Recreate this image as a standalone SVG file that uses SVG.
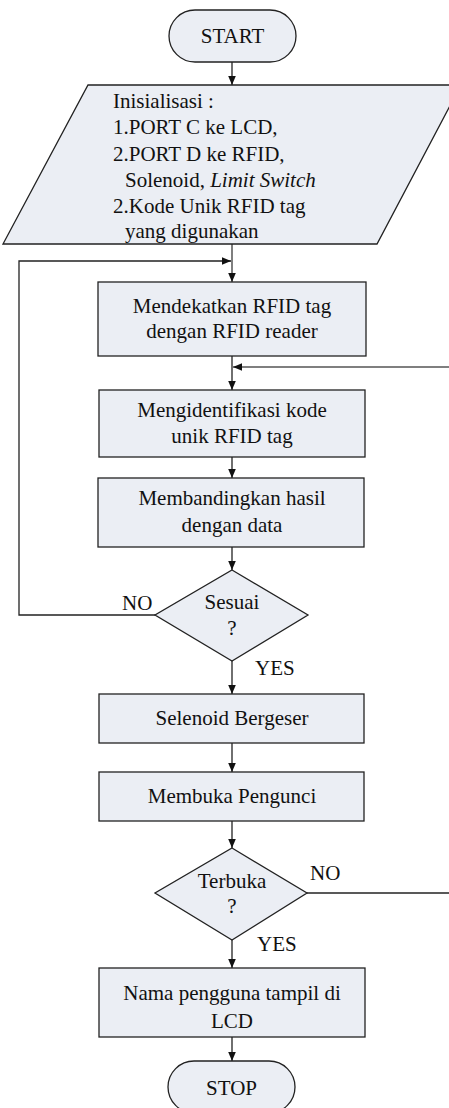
<svg xmlns="http://www.w3.org/2000/svg" width="449" height="1108" viewBox="0 0 449 1108">
<defs>
<style>
.sh{fill:#ebeef4;stroke:#222;stroke-width:1.3}
.t{font-family:"Liberation Serif","Times New Roman",serif;font-size:21px;fill:#111}
.c{text-anchor:middle}
.ln{fill:none;stroke:#222;stroke-width:1.3}
.lg{fill:none;stroke:#555;stroke-width:1.5}
</style>
<marker id="ah" markerWidth="10" markerHeight="10" refX="9" refY="5" orient="auto" markerUnits="userSpaceOnUse">
<path d="M0,1.2 L9,5 L0,8.8 Z" fill="#111"/>
</marker>
</defs>
<rect width="449" height="1108" fill="#fff"/>
<g id="connectors">
<line class="ln" x1="232" y1="62" x2="232" y2="85" marker-end="url(#ah)"/>
<line class="lg" x1="232" y1="244" x2="232" y2="282" marker-end="url(#ah)"/>
<polyline class="ln" points="155,615 19,615 19,261 231,261" marker-end="url(#ah)"/>
<line class="ln" x1="232" y1="356" x2="232" y2="390" marker-end="url(#ah)"/>
<line class="lg" x1="449" y1="367" x2="233" y2="367" marker-end="url(#ah)"/>
<line class="ln" x1="232" y1="457" x2="232" y2="478" marker-end="url(#ah)"/>
<line class="ln" x1="232" y1="547" x2="232" y2="570" marker-end="url(#ah)"/>
<line class="ln" x1="232" y1="661" x2="232" y2="694" marker-end="url(#ah)"/>
<line class="ln" x1="232" y1="743" x2="232" y2="772" marker-end="url(#ah)"/>
<line class="ln" x1="232" y1="821" x2="232" y2="848" marker-end="url(#ah)"/>
<line class="ln" x1="307" y1="893" x2="449" y2="893"/>
<line class="ln" x1="232" y1="940" x2="232" y2="968" marker-end="url(#ah)"/>
<line class="ln" x1="232" y1="1037" x2="232" y2="1061" marker-end="url(#ah)"/>
<text class="t" x="122" y="610">NO</text>
<text class="t" x="255" y="675">YES</text>
<text class="t" x="310" y="880">NO</text>
<text class="t" x="257" y="951">YES</text>
</g>
<g id="start">
<rect class="sh" x="169" y="10" width="127" height="52" rx="26"/>
<text class="t c" x="232.5" y="43">START</text>
</g>
<g id="init">
<polygon class="sh" points="88,85 461,85 377,244 3,244"/>
<text class="t" x="113" y="108">Inisialisasi :</text>
<text class="t" x="113" y="134">1.PORT C ke LCD,</text>
<text class="t" x="113" y="161">2.PORT D ke RFID,</text>
<text class="t" x="125" y="187">Solenoid, <tspan font-style="italic">Limit Switch</tspan></text>
<text class="t" x="113" y="213">2.Kode Unik RFID tag</text>
<text class="t" x="125" y="238">yang digunakan</text>
</g>
<g id="dekatkan">
<rect class="sh" x="98" y="282" width="268" height="74"/>
<text class="t c" x="232" y="313">Mendekatkan RFID tag</text>
<text class="t c" x="232" y="338">dengan RFID reader</text>
</g>
<g id="identifikasi">
<rect class="sh" x="99" y="390" width="266" height="67"/>
<text class="t c" x="232" y="417">Mengidentifikasi kode</text>
<text class="t c" x="232" y="443">unik RFID tag</text>
</g>
<g id="bandingkan">
<rect class="sh" x="98" y="478" width="266" height="69"/>
<text class="t c" x="232" y="505">Membandingkan hasil</text>
<text class="t c" x="232" y="532">dengan data</text>
</g>
<g id="sesuai">
<polygon class="sh" points="232,570 308,615 232,661 155,615"/>
<text class="t c" x="232" y="609">Sesuai</text>
<text class="t c" x="232" y="635">?</text>
</g>
<g id="selenoid">
<rect class="sh" x="99" y="694" width="265" height="49"/>
<text class="t c" x="232" y="725">Selenoid Bergeser</text>
</g>
<g id="membuka">
<rect class="sh" x="99" y="772" width="265" height="49"/>
<text class="t c" x="232" y="803">Membuka Pengunci</text>
</g>
<g id="terbuka">
<polygon class="sh" points="232,848 307,893 232,940 155,893"/>
<text class="t c" x="232" y="888">Terbuka</text>
<text class="t c" x="232" y="913">?</text>
</g>
<g id="tampil">
<rect class="sh" x="99" y="968" width="266" height="69"/>
<text class="t c" x="232" y="1000">Nama pengguna tampil di</text>
<text class="t c" x="232" y="1028">LCD</text>
</g>
<g id="stop">
<rect class="sh" x="168" y="1061" width="127" height="52" rx="26"/>
<text class="t c" x="231.5" y="1095">STOP</text>
</g>
</svg>
